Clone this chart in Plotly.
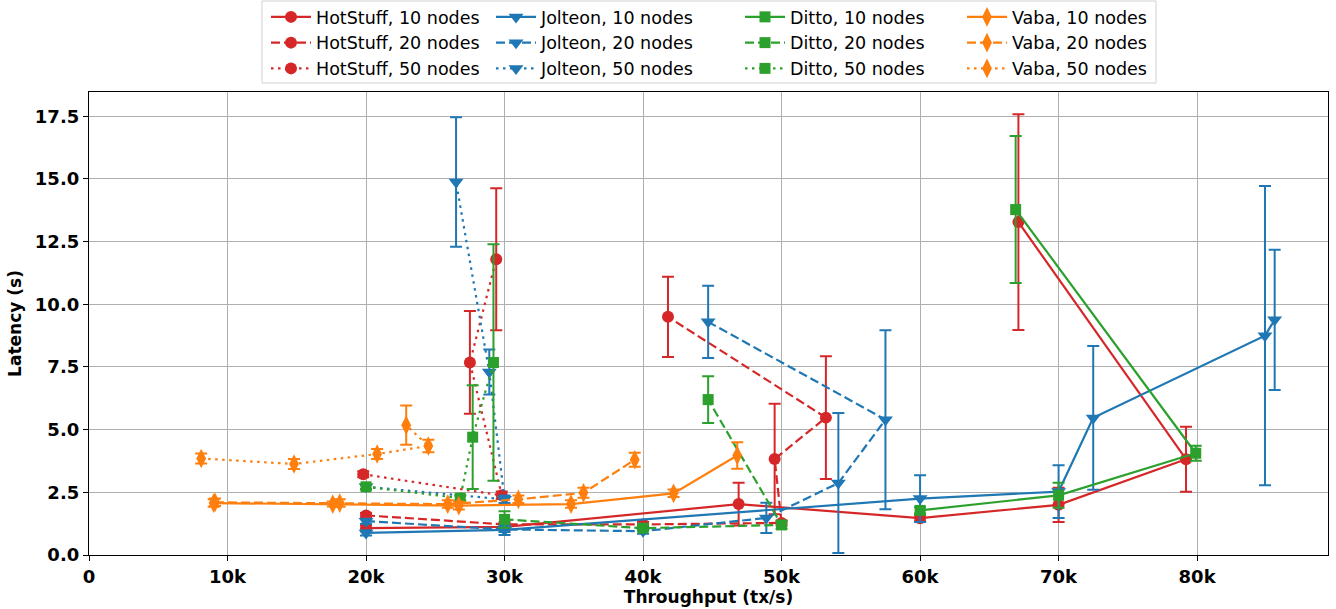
import plotly.graph_objects as go

# ---------------- data ----------------
hs10_x = [20000, 30000, 46900, 60000, 70000, 79200, 67100]
hs10_y = [1.07, 1.12, 2.03, 1.47, 2.0, 3.82, 13.28]
hs10_e = [0.12, 0.12, 0.85, 0.12, 0.68, 1.3, 4.3]

hs20_x = [20000, 30000, 40000, 50000, 49500, 53200, 41800]
hs20_y = [1.58, 1.22, 1.22, 1.28, 3.83, 5.48, 9.5]
hs20_e = [0.1, 0.1, 0.1, 0.1, 2.2, 2.45, 1.6]

hs50_x = [19800, 29800, 27500, 29400]
hs50_y = [3.22, 2.38, 7.68, 11.8]
hs50_e = [0.12, 0.15, 2.05, 2.83]

jo10_x = [20000, 30000, 60000, 70000, 72500, 84900, 85600]
jo10_y = [0.88, 1.0, 2.25, 2.53, 5.47, 8.75, 9.38]
jo10_e = [0.1, 0.2, 0.93, 1.05, 2.87, 5.97, 2.8]

jo20_x = [20000, 30000, 40000, 48900, 54100, 57500, 44700]
jo20_y = [1.35, 1.02, 0.95, 1.48, 2.87, 5.4, 9.3]
jo20_e = [0.1, 0.1, 0.1, 0.6, 2.79, 3.57, 1.44]

jo50_x = [20000, 30000, 28900, 26500]
jo50_y = [2.72, 2.22, 7.3, 14.88]
jo50_e = [0.1, 0.15, 0.9, 2.58]

di10_x = [60000, 70000, 79900, 66900]
di10_y = [1.78, 2.38, 4.06, 13.78]
di10_e = [0.12, 0.5, 0.3, 2.93]

di20_x = [30000, 40000, 50000, 44700]
di20_y = [1.42, 1.07, 1.2, 6.2]
di20_e = [0.33, 0.1, 0.15, 0.93]

di50_x = [20000, 26800, 27700, 29200]
di50_y = [2.72, 2.27, 4.7, 7.68]
di50_e = [0.1, 0.1, 2.07, 4.72]

va10_x = [9000, 17600, 26700, 34800, 42200, 46800]
va10_y = [2.07, 2.03, 1.97, 2.03, 2.46, 3.97]
va10_e = [0.15, 0.1, 0.15, 0.15, 0.15, 0.53]

va20_x = [9100, 18100, 25900, 31000, 35700, 39400]
va20_y = [2.1, 2.07, 2.03, 2.22, 2.48, 3.8]
va20_e = [0.15, 0.15, 0.15, 0.15, 0.2, 0.28]

va50_x = [8100, 14800, 20800, 24500, 22900]
va50_y = [3.85, 3.63, 4.03, 4.35, 5.18]
va50_e = [0.2, 0.2, 0.2, 0.25, 0.78]

x_tickvals = [0, 10000, 20000, 30000, 40000, 50000, 60000, 70000, 80000]
x_ticktext = ["0", "10k", "20k", "30k", "40k", "50k", "60k", "70k", "80k"]
y_tickvals = [0, 2.5, 5, 7.5, 10, 12.5, 15, 17.5]
y_ticktext = ["0.0", "2.5", "5.0", "7.5", "10.0", "12.5", "15.0", "17.5"]

# ---------------- styling ----------------
RED, BLUE, GREEN, ORANGE = "#d62728", "#1f77b4", "#2ca02c", "#ff7f0e"
DASH = {"10": "solid", "20": "9px,4px", "50": "2.5px,4.5px"}
FONT = "DejaVu Sans, Arial, sans-serif"

protocols = [
    ("HotStuff", RED, "circle", 12, "legend",
     [("10", hs10_x, hs10_y, hs10_e), ("20", hs20_x, hs20_y, hs20_e), ("50", hs50_x, hs50_y, hs50_e)]),
    ("Jolteon", BLUE, "triangle-down", 13, "legend2",
     [("10", jo10_x, jo10_y, jo10_e), ("20", jo20_x, jo20_y, jo20_e), ("50", jo50_x, jo50_y, jo50_e)]),
    ("Ditto", GREEN, "square", 11, "legend3",
     [("10", di10_x, di10_y, di10_e), ("20", di20_x, di20_y, di20_e), ("50", di50_x, di50_y, di50_e)]),
    ("Vaba", ORANGE, "diamond-tall", 14, "legend4",
     [("10", va10_x, va10_y, va10_e), ("20", va20_x, va20_y, va20_e), ("50", va50_x, va50_y, va50_e)]),
]

fig = go.Figure()
for name, color, sym, msize, leg, series in protocols:
    for n, xs, ys, es in series:
        fig.add_trace(go.Scatter(
            x=xs, y=ys, mode="lines+markers",
            name=f"{name}, {n} nodes",
            legend=leg,
            line=dict(color=color, width=2.2, dash=DASH[n]),
            marker=dict(color=color, symbol=sym, size=msize, line=dict(width=0)),
            error_y=dict(type="data", array=es, visible=True, color=color,
                         thickness=2, width=6),
        ))

W, H = 1336, 609
L, R, T, B = 89, 8, 92, 54
ph = H - T - B
pw = W - L - R

def px_x(p):
    return (p - L) / pw

def px_y(p):
    return 1 + (T - p) / ph

leg_common = dict(orientation="v", yanchor="top", xanchor="left",
                  bgcolor="rgba(0,0,0,0)", borderwidth=0,
                  font=dict(family=FONT, size=17.5, color="black"),
                  tracegroupgap=0, itemwidth=40)
legend_lefts = [266, 491, 740, 962]

layout_legends = {}
for i, lx in enumerate(legend_lefts):
    key = "legend" if i == 0 else f"legend{i+1}"
    layout_legends[key] = dict(leg_common, x=px_x(lx), y=px_y(-1))

fig.update_layout(
    width=W, height=H,
    margin=dict(l=L, r=R, t=T, b=B, autoexpand=False),
    paper_bgcolor="white", plot_bgcolor="white",
    font=dict(family=FONT, size=16, color="black"),
    showlegend=True,
    **layout_legends,
    xaxis=dict(
        range=[0, 89450], tickvals=x_tickvals, ticktext=x_ticktext,
        showgrid=True, gridcolor="#b0b0b0", gridwidth=1,
        showline=True, linecolor="black", linewidth=1.3, mirror=True,
        ticks="outside", ticklen=5, tickcolor="black",
        tickfont=dict(family=FONT, size=18, color="black", weight="bold"),
        title=dict(text="<b>Throughput (tx/s)</b>", standoff=4,
                   font=dict(family=FONT, size=17, color="black")),
        zeroline=False,
    ),
    yaxis=dict(
        range=[0, 18.47], tickvals=y_tickvals, ticktext=y_ticktext,
        showgrid=True, gridcolor="#b0b0b0", gridwidth=1,
        showline=True, linecolor="black", linewidth=1.3, mirror=True,
        ticks="outside", ticklen=5, tickcolor="black",
        tickfont=dict(family=FONT, size=18, color="black", weight="bold"),
        title=dict(text="<b>Latency (s)</b>", standoff=8,
                   font=dict(family=FONT, size=17, color="black")),
        zeroline=False,
    ),
    shapes=[dict(type="rect", xref="paper", yref="paper",
                 x0=px_x(262), x1=px_x(1156), y0=px_y(83), y1=px_y(1),
                 line=dict(color="#d0d0d0", width=1), fillcolor="rgba(0,0,0,0)")],
)

fig.write_html("out.html",
               config={"displayModeBar": False},
               post_script="document.body.style.margin='0';document.body.style.padding='0';")
